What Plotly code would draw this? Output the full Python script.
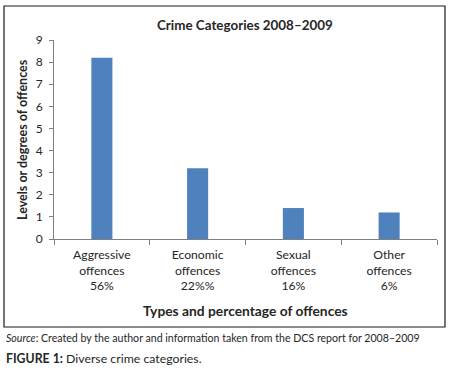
import plotly.graph_objects as go

categories = ["Aggressive<br>offences<br>56%", "Economic<br>offences<br>22%%", "Sexual<br>offences<br>16%", "Other<br>offences<br>6%"]
values = [8.2, 3.2, 1.4, 1.2]
y_ticks = [0, 1, 2, 3, 4, 5, 6, 7, 8, 9]

FONT = "Lato, 'Open Sans', sans-serif"
TXT = "#262626"

fig = go.Figure()
fig.add_trace(go.Bar(x=categories, y=values, marker=dict(color="#4F81BD", line=dict(width=0)), width=0.22,
                     hoverinfo="skip"))

fig.update_layout(
    width=450, height=378,
    margin=dict(l=54, r=13, t=40, b=139),
    paper_bgcolor="white", plot_bgcolor="white",
    font=dict(family=FONT, size=12, color=TXT),
    showlegend=False,
    xaxis=dict(showline=True, linecolor="#808080", linewidth=1, ticks="outside", tickson="boundaries",
               ticklen=5, tickcolor="#808080", showgrid=False, tickfont=dict(size=12.2, color=TXT),
               ticklabelstandoff=4, automargin=False),
    yaxis=dict(range=[0, 9], tickvals=y_ticks, showline=True, linecolor="#808080", linewidth=1,
               ticks="outside", ticklen=4, tickcolor="#808080", showgrid=False, zeroline=False,
               ticklabelstandoff=4, tickfont=dict(size=12, color=TXT), automargin=False),
)

def px(xp):
    return (xp - 54) / 383
def py(yp):
    return (239 - yp) / 199

fig.add_shape(type="rect", xref="paper", yref="paper", x0=px(4), x1=px(445), y0=py(327), y1=py(6),
              line=dict(color="#1a1a1a", width=1.2))

def ann(text, x, y, size, xanchor="center", angle=0):
    fig.add_annotation(text=text, xref="paper", yref="paper", x=px(x), y=py(y), showarrow=False,
                       xanchor=xanchor, yanchor="middle", textangle=angle,
                       font=dict(size=size, color=TXT))

ann("<b>Crime Categories 2008–2009</b>", 245, 25, 13.4)
ann("<b>Types and percentage of offences</b>", 245, 310, 13.8)
ann("<b>Levels or degrees of offences</b>", 22, 140, 12.5, angle=-90)
ann("<i>Source</i>: Created by the author and information taken from the DCS report for 2008–2009", 4, 338, 10.6, xanchor="left")
ann("<b>FIGURE 1:</b> Diverse crime categories.", 4, 358, 12.3, xanchor="left")

fig.write_html("out.html", config={"displayModeBar": False},
               post_script="document.body.style.margin='0';document.body.style.overflow='hidden';")
